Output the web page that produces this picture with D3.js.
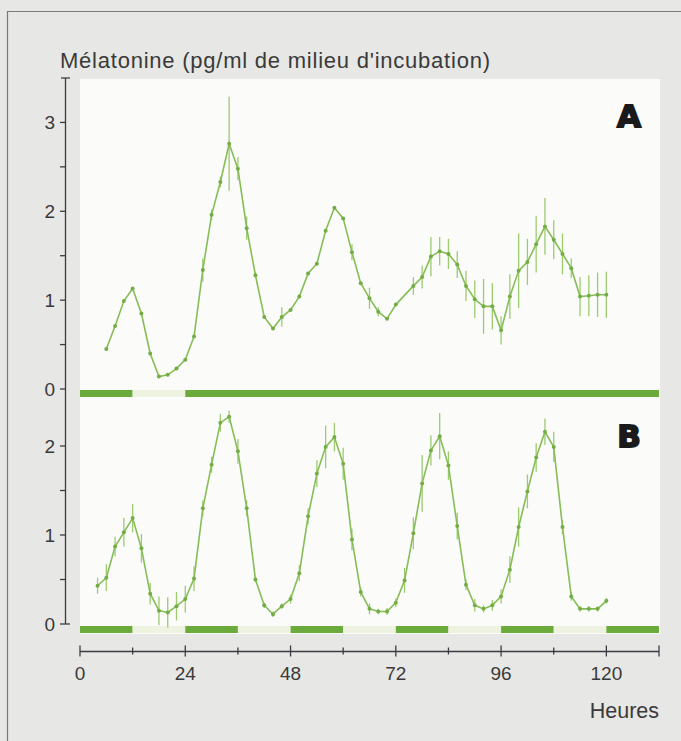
<!DOCTYPE html>
<html>
<head>
<meta charset="utf-8">
<script src="https://cdn.jsdelivr.net/npm/d3@7"></script>
<style>
  body { margin: 0; background: #e7e7e5; }
  #chart { width: 681px; height: 741px; }
  .tick-label { font-family: "Liberation Sans", Arial, sans-serif; font-size: 19px; fill: #3a3a3a; }
  .panel-letter { font-family: "DejaVu Sans", sans-serif; font-weight: 900; font-size: 31px; fill: #1a1a1a; stroke: #1a1a1a; stroke-width: 1.8px; }
</style>
</head>
<body>
<div id="chart"></div>
<script>

// hours + melatonin values
const hoursA = [6, 8, 10, 12, 14, 16, 18, 20, 22, 24, 26, 28, 30, 32, 34, 36, 38, 40, 42, 44, 46, 48, 50, 52, 54, 56, 58, 60, 62, 64, 66, 68, 70, 72, 76, 78, 80, 82, 84, 86, 88, 90, 92, 94, 96, 98, 100, 102, 104, 106, 108, 110, 112, 114, 116, 118, 120];
const valuesA = [0.45, 0.71, 0.99, 1.13, 0.85, 0.40, 0.14, 0.16, 0.23, 0.33, 0.59, 1.34, 1.96, 2.33, 2.76, 2.48, 1.81, 1.28, 0.81, 0.68, 0.81, 0.89, 1.04, 1.30, 1.41, 1.78, 2.04, 1.92, 1.54, 1.19, 1.02, 0.87, 0.79, 0.95, 1.16, 1.26, 1.49, 1.55, 1.52, 1.40, 1.16, 1.01, 0.93, 0.93, 0.66, 1.04, 1.33, 1.43, 1.63, 1.83, 1.68, 1.52, 1.36, 1.04, 1.05, 1.06, 1.06];
const errA = [0, 0, 0, 0, 0, 0, 0, 0, 0, 0, 0, 0.13, 0.06, 0.06, 0.53, 0.13, 0.13, 0.03, 0, 0, 0.11, 0, 0, 0, 0, 0, 0, 0, 0.09, 0, 0.12, 0.05, 0, 0, 0.10, 0.13, 0.22, 0.16, 0.17, 0.15, 0.17, 0.21, 0.31, 0.26, 0.16, 0.25, 0.42, 0.26, 0.32, 0.32, 0.22, 0.23, 0.11, 0.22, 0.23, 0.25, 0.26];

const hoursB = [4, 6, 8, 10, 12, 14, 16, 18, 20, 22, 24, 26, 28, 30, 32, 34, 36, 38, 40, 42, 44, 46, 48, 50, 52, 54, 56, 58, 60, 62, 64, 66, 68, 70, 72, 74, 76, 78, 80, 82, 84, 86, 88, 90, 92, 94, 96, 98, 100, 102, 104, 106, 108, 110, 112, 114, 116, 118, 120];
const valuesB = [0.43, 0.52, 0.87, 1.03, 1.19, 0.85, 0.34, 0.15, 0.13, 0.20, 0.28, 0.51, 1.30, 1.79, 2.26, 2.33, 1.94, 1.30, 0.50, 0.21, 0.11, 0.20, 0.28, 0.57, 1.21, 1.69, 1.99, 2.10, 1.80, 0.95, 0.36, 0.17, 0.14, 0.14, 0.24, 0.49, 1.02, 1.58, 1.95, 2.11, 1.78, 1.10, 0.44, 0.21, 0.17, 0.21, 0.31, 0.61, 1.09, 1.49, 1.87, 2.16, 1.99, 1.09, 0.31, 0.17, 0.17, 0.17, 0.26];
const errB = [0.09, 0.15, 0.11, 0.16, 0.16, 0.16, 0.12, 0.16, 0.17, 0.16, 0.15, 0.14, 0.09, 0.09, 0.10, 0.07, 0.14, 0.09, 0.03, 0.03, 0.03, 0.03, 0.05, 0.09, 0.09, 0.15, 0.24, 0.16, 0.18, 0.12, 0.05, 0.06, 0.03, 0.04, 0.05, 0.14, 0.18, 0.32, 0.17, 0.26, 0.16, 0.15, 0.06, 0.07, 0.04, 0.06, 0.08, 0.15, 0.22, 0.19, 0.16, 0.15, 0.17, 0.08, 0.05, 0.03, 0.03, 0.03, 0.03];

// light/dark bars under each panel: [start, end, dark?]
const periodsA = [[0, 12, 1], [12, 24, 0], [24, 132, 1]];
const periodsB = [[0, 12, 1], [12, 24, 0], [24, 36, 1], [36, 48, 0], [48, 60, 1], [60, 72, 0], [72, 84, 1], [84, 96, 0], [96, 108, 1], [108, 120, 0], [120, 132, 1]];

const xTicks = [0, 24, 48, 72, 96, 120];
const yTicksA = [0, 1, 2, 3];
const yTicksB = [0, 1, 2];

const width = 681;
const height = 741;

const svg = d3.select("#chart")
    .append("svg")
    .attr("width", width)
    .attr("height", height);

const lineColor = "#86bd56";
const errColor = "#9ccb70";
const barColor = "#6aab3c";
const paleColor = "#eef3e1";
const axisColor = "#3b3b44";

// frame + white plot area
svg.append("path")
    .attr("d", "M7.5,741 L7.5,11.5 L681,11.5")
    .attr("fill", "none")
    .attr("stroke", "#7a7a7a")
    .attr("stroke-width", 1.2);

const x = d3.scaleLinear()
    .domain([0, 132])
    .range([80, 659]);

const yA = d3.scaleLinear()
    .domain([0, 3.5])
    .range([389, 78]);

const yB = d3.scaleLinear()
    .domain([0, 2])
    .range([624, 446]);

svg.append("rect")
    .attr("x", x(0))
    .attr("y", yA(3.5) + 1)
    .attr("width", x(132) - x(0) + 1)
    .attr("height", 633 - yA(3.5))
    .attr("fill", "#fbfbfa");

//DRAW LIGHT/DARK BARS
function drawPeriods(periods, y0) {
    svg.append("g")
        .selectAll("rect")
        .data(periods)
        .enter()
        .append("rect")
        .attr("x", d => x(d[0]))
        .attr("y", y0)
        .attr("width", d => x(d[1]) - x(d[0]))
        .attr("height", 7)
        .attr("fill", d => d[2] ? barColor : paleColor);
}
drawPeriods(periodsA, yA(0) + 1);
drawPeriods(periodsB, yB(0) + 2);

//Y AXIS (one continuous line, two sets of ticks)
const yaxis = svg.append("g")
    .attr("stroke", axisColor)
    .attr("stroke-width", 1.3);

yaxis.append("line")
    .attr("x1", 65.5).attr("x2", 65.5)
    .attr("y1", yA(3.5)).attr("y2", yB(0));

// end caps
yaxis.append("line")
    .attr("x1", 61).attr("x2", 70)
    .attr("y1", yA(3.5)).attr("y2", yA(3.5));
yaxis.append("line")
    .attr("x1", 60).attr("x2", 70)
    .attr("y1", yB(0)).attr("y2", yB(0));

yaxis.selectAll(".ta")
    .data(d3.range(0, 3.5, 0.5))
    .enter()
    .append("line")
    .attr("x1", 60).attr("x2", 65.5)
    .attr("y1", d => yA(d)).attr("y2", d => yA(d));

yaxis.selectAll(".tb")
    .data(d3.range(0.5, 2.5, 0.5))
    .enter()
    .append("line")
    .attr("x1", 60).attr("x2", 65.5)
    .attr("y1", d => yB(d)).attr("y2", d => yB(d));

svg.selectAll(".ylabA")
    .data(yTicksA)
    .enter()
    .append("text")
    .attr("class", "tick-label")
    .attr("x", 55)
    .attr("y", d => yA(d) + 7)
    .attr("text-anchor", "end")
    .text(d => d);

svg.selectAll(".ylabB")
    .data(yTicksB)
    .enter()
    .append("text")
    .attr("class", "tick-label")
    .attr("x", 55)
    .attr("y", d => yB(d) + 7)
    .attr("text-anchor", "end")
    .text(d => d);

//X AXIS
const xaxisY = 651.5;
const xaxis = svg.append("g")
    .attr("stroke", axisColor)
    .attr("stroke-width", 1.3);

xaxis.append("line")
    .attr("x1", x(0)).attr("x2", x(132))
    .attr("y1", xaxisY).attr("y2", xaxisY);

xaxis.selectAll(".tx")
    .data(d3.range(0, 133, 12))
    .enter()
    .append("line")
    .attr("x1", d => x(d)).attr("x2", d => x(d))
    .attr("y1", d => d % 24 == 0 || d == 132 ? xaxisY - 6 : xaxisY - 4)
    .attr("y2", d => d % 24 == 0 || d == 132 ? xaxisY + 5 : xaxisY + 3);

svg.selectAll(".xlab")
    .data(xTicks)
    .enter()
    .append("text")
    .attr("class", "tick-label")
    .attr("x", d => x(d))
    .attr("y", 680)
    .attr("text-anchor", "middle")
    .text(d => d);

svg.append("text")
    .attr("class", "tick-label")
    .attr("x", 659)
    .attr("y", 718)
    .attr("text-anchor", "end")
    .style("font-size", "21.5px")
    .text("Heures");

svg.append("text")
    .attr("class", "tick-label")
    .attr("x", 60)
    .attr("y", 68)
    .style("font-size", "22px")
    .attr("textLength", 430)
    .text("Mélatonine (pg/ml de milieu d'incubation)");

//DRAW SERIES
function drawSeries(hours, values, errs, y) {
    const pts = hours.map((h, i) => ({ h: h, v: values[i], e: errs[i] }));
    const g = svg.append("g");

    g.selectAll("line")
        .data(pts.filter(d => d.e > 0))
        .enter()
        .append("line")
        .attr("x1", d => x(d.h)).attr("x2", d => x(d.h))
        .attr("y1", d => y(d.v - d.e)).attr("y2", d => y(d.v + d.e))
        .attr("stroke", errColor)
        .attr("stroke-width", 1.3);

    const line = d3.line()
        .x(d => x(d.h))
        .y(d => y(d.v));

    g.append("path")
        .datum(pts)
        .attr("d", line)
        .attr("fill", "none")
        .attr("stroke", lineColor)
        .attr("stroke-width", 1.6);

    g.selectAll("circle")
        .data(pts)
        .enter()
        .append("circle")
        .attr("cx", d => x(d.h))
        .attr("cy", d => y(d.v))
        .attr("r", 2)
        .attr("fill", "#74ad45");
}
drawSeries(hoursA, valuesA, errA, yA);
drawSeries(hoursB, valuesB, errB, yB);

svg.append("text")
    .attr("class", "panel-letter")
    .attr("x", 641)
    .attr("y", 127)
    .attr("text-anchor", "end")
    .text("A");

svg.append("text")
    .attr("class", "panel-letter")
    .attr("x", 641)
    .attr("y", 447)
    .attr("text-anchor", "end")
    .text("B");

</script>
</body>
</html>
